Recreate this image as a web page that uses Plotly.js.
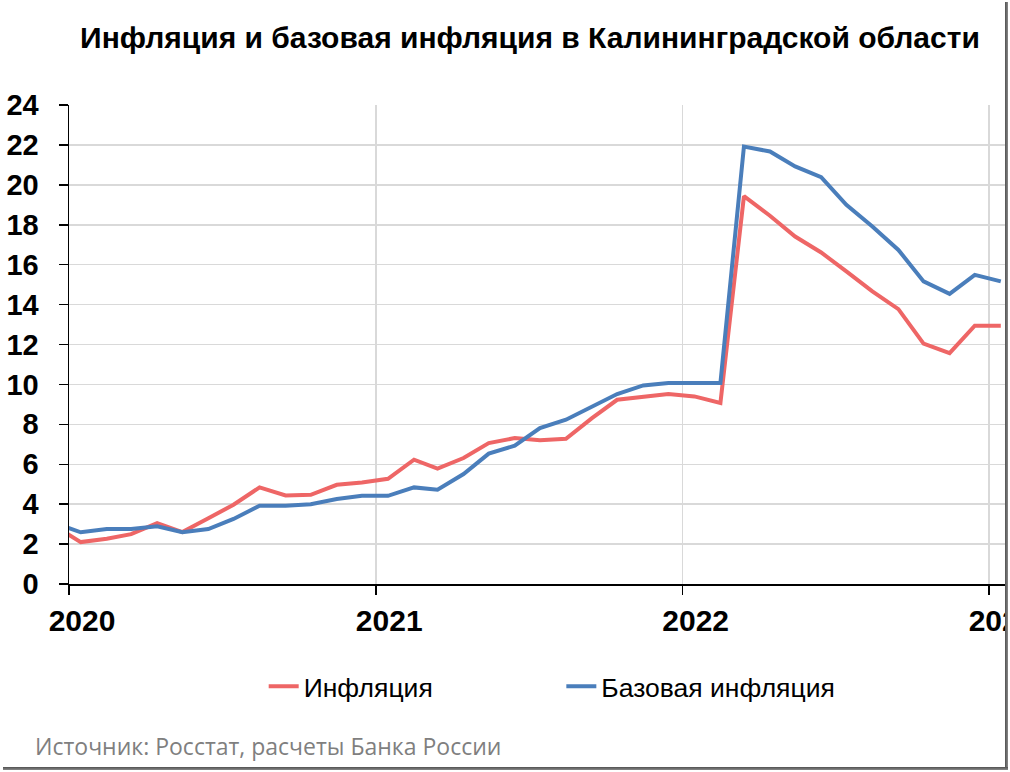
<!DOCTYPE html>
<html>
<head>
<meta charset="utf-8">
<script src="https://cdn.plot.ly/plotly-3.0.1.min.js"></script>
<style>
  html, body { margin: 0; padding: 0; background: #ffffff; }
  #wrap { position: relative; width: 1010px; height: 772px; overflow: hidden; }
  #chart { position: absolute; left: 0; top: 0; width: 1010px; height: 772px; }
  #frameR { position: absolute; left: 1005px; top: 2px; width: 3px; height: 768px;
            background: linear-gradient(to right, #505050, #8a8a8a); }
  #frameB { position: absolute; left: 3px; top: 767px; width: 1005px; height: 3px;
            background: linear-gradient(to bottom, #505050, #8a8a8a); }
  #outR { position: absolute; left: 1008px; top: 0; width: 2px; height: 772px; background: #ffffff; }
</style>
</head>
<body>
<div id="wrap">
  <div id="chart"></div>
  <div id="outR"></div>
  <div id="frameR"></div>
  <div id="frameB"></div>
</div>
<script>
// Monthly dates (mid-month), Dec 2019 .. Jan 2023
const months = [
  "2019-12-15",
  "2020-01-15","2020-02-15","2020-03-15","2020-04-15","2020-05-15","2020-06-15",
  "2020-07-15","2020-08-15","2020-09-15","2020-10-15","2020-11-15","2020-12-15",
  "2021-01-15","2021-02-15","2021-03-15","2021-04-15","2021-05-15","2021-06-15",
  "2021-07-15","2021-08-15","2021-09-15","2021-10-15","2021-11-15","2021-12-15",
  "2022-01-15","2022-02-15","2022-03-15","2022-04-15","2022-05-15","2022-06-15",
  "2022-07-15","2022-08-15","2022-09-15","2022-10-15","2022-11-15","2022-12-15",
  "2023-01-15"
];

// Инфляция, % г/г
const inflation = [
  2.9,
  2.1, 2.27, 2.5, 3.05, 2.6, 3.3, 3.97, 4.84, 4.44, 4.47, 4.97, 5.09,
  5.27, 6.23, 5.78, 6.31, 7.06, 7.31, 7.2, 7.28, 8.31, 9.23, 9.4, 9.52,
  9.4, 9.07, 19.43, 18.45, 17.41, 16.61, 15.66, 14.66, 13.77, 12.04, 11.57, 12.94,
  12.94
];

// Базовая инфляция, % г/г
const coreInflation = [
  3.05,
  2.59, 2.75, 2.75, 2.89, 2.59, 2.75, 3.26, 3.92, 3.92, 4.0, 4.26, 4.42,
  4.42, 4.84, 4.72, 5.51, 6.53, 6.93, 7.81, 8.23, 8.86, 9.52, 9.95, 10.07,
  10.07, 10.07, 21.92, 21.67, 20.92, 20.38, 19.0, 17.91, 16.74, 15.16, 14.54, 15.49,
  15.16
];

const yearTickVals = ["2020-01-01", "2021-01-01", "2022-01-01", "2023-01-01"];
const yearTickText = ["2020", "2021", "2022", "2023"];
const yTickVals = [0, 2, 4, 6, 8, 10, 12, 14, 16, 18, 20, 22, 24];

const seriesNames = ["Инфляция", "Базовая инфляция"];
const titleText = "Инфляция и базовая инфляция в Калининградской области";
const sourceText = "Источник: Росстат, расчеты Банка России";

const RED = "#EE6666";
const BLUE = "#4A7EBB";

const traces = [
  {
    x: months, y: inflation, type: "scatter", mode: "lines",
    name: seriesNames[0], line: { color: RED, width: 4 },
    legend: "legend", hoverinfo: "x+y"
  },
  {
    x: months, y: coreInflation, type: "scatter", mode: "lines",
    name: seriesNames[1], line: { color: BLUE, width: 4 },
    legend: "legend2", hoverinfo: "x+y"
  }
];

const layout = {
  width: 1010, height: 772,
  paper_bgcolor: "#ffffff", plot_bgcolor: "#ffffff",
  margin: { l: 69, r: 5, t: 105, b: 188, pad: 0 },
  font: { family: "Liberation Sans, Arial, sans-serif", color: "#000000" },
  title: {
    text: titleText,
    font: { family: "Liberation Sans, Arial, sans-serif", size: 30, color: "#000000", weight: "bold" },
    xref: "paper", x: 0.4925, xanchor: "center",
    yref: "container", y: 0.952, yanchor: "middle"
  },
  xaxis: {
    type: "date",
    range: ["2020-01-01", "2023-01-20"],
    tickmode: "array", tickvals: yearTickVals, ticktext: yearTickText,
    ticks: "outside", ticklen: 9, tickwidth: 1.5, tickcolor: "#000000",
    showline: true, linecolor: "#000000", linewidth: 1.5,
    showgrid: true, gridcolor: "#d9d9d9", gridwidth: 1.5,
    zeroline: false,
    tickfont: { family: "Liberation Sans, Arial, sans-serif", size: 30, color: "#000000", weight: "bold" },
    ticklabelstandoff: 0,
    ticklabelshift: 13,
    ticklabeloverflow: "allow",
    fixedrange: true
  },
  yaxis: {
    range: [0, 24],
    tickmode: "array", tickvals: yTickVals,
    ticks: "outside", ticklen: 9, tickwidth: 1.5, tickcolor: "#000000",
    showline: true, linecolor: "#000000", linewidth: 1.5,
    showgrid: true, gridcolor: "#d9d9d9", gridwidth: 1.5,
    zeroline: false,
    tickfont: { family: "Liberation Sans, Arial, sans-serif", size: 29, color: "#000000", weight: "bold" },
    ticklabelstandoff: 14,
    fixedrange: true
  },
  showlegend: true,
  legend: {
    orientation: "h", x: 0.208, xanchor: "left", y: -0.214, yanchor: "middle",
    font: { family: "Liberation Sans, Arial, sans-serif", size: 26.5, color: "#000000" },
    itemwidth: 30, bgcolor: "rgba(0,0,0,0)", borderwidth: 0
  },
  legend2: {
    orientation: "h", x: 0.526, xanchor: "left", y: -0.214, yanchor: "middle",
    font: { family: "Liberation Sans, Arial, sans-serif", size: 26.5, color: "#000000" },
    itemwidth: 30, bgcolor: "rgba(0,0,0,0)", borderwidth: 0
  },
  annotations: [
    {
      text: sourceText, showarrow: false,
      xref: "paper", yref: "paper", x: -0.0385, xanchor: "left",
      y: -0.339, yanchor: "middle",
      font: { family: "Open Sans, sans-serif", size: 23, color: "#7f7f7f" }
    }
  ]
};

Plotly.newPlot("chart", traces, layout, { displayModeBar: false, staticPlot: true });
</script>
</body>
</html>
